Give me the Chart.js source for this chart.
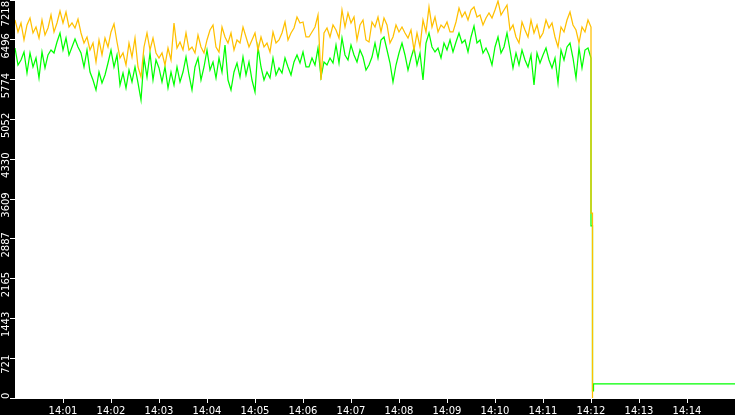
<!DOCTYPE html>
<html>
<head>
<meta charset="utf-8">
<script src="https://cdn.jsdelivr.net/npm/chart.js@4"></script>
<style>
  html, body { margin: 0; padding: 0; background: #000; }
  canvas { display: block; }
</style>
</head>
<body>
<canvas id="chart" width="735" height="415"></canvas>
<script>
// seconds after 14:00 between two samples
const sampleSeconds = 3.75;

const orangeValues = [
  6855, 6638, 6801, 6493, 6765, 6892, 6620, 6728, 6529, 6855,
  6583, 6710, 6946, 6638, 6801, 7018, 6801, 7000, 6728, 6801,
  6710, 6873, 6620, 6438, 6547, 6311, 6438, 6094, 6493, 6221,
  6529, 6366, 6638, 6783, 6456, 6166, 6257, 6039, 6438, 6184,
  6529, 6003, 5821, 6366, 6620, 6311, 6529, 6257, 6166,
  6257, 6039, 6347, 6130, 6801, 6347, 6456, 6311, 6620, 6311,
  6366, 6257, 6583, 6366, 6257, 6493, 6674, 6765, 6366, 6275,
  6728, 6547, 6438, 6620, 6311, 6493, 6438, 6728, 6547, 6366,
  6493, 6620, 6311, 6547, 6366, 6438, 6275, 6638, 6438, 6493,
  6620, 6819, 6493, 6620, 6710, 6910, 6801, 6819, 6547,
  6547, 6638, 6728, 6946, 5767, 6620, 6710, 6547, 6765, 6674,
  6529, 7037, 6728, 6982, 6801, 6910, 6493, 6765, 6855, 6493,
  6456, 6819, 6728, 6910, 6638, 6892, 6765, 6438, 6547, 6765,
  6638, 6728, 6620, 6529, 6674, 6311, 6620, 6366, 6855, 6638,
  7091, 6728, 6910, 6638, 6765, 6710, 6819, 6638,
  6638, 6819, 7073, 6910, 7000, 6855, 7037, 7091, 6910, 6946,
  6765, 6892, 6982, 6892, 7037, 7200, 6946, 7037, 7127, 6674,
  6765, 6547, 6438, 6819, 6674, 6547, 6855, 6620, 6765, 6529,
  6620, 6855, 6710, 6801, 6547, 6366, 6728, 6638, 6855, 7000,
  6765, 6674, 6438, 6728, 6638, 6855, 6728
];

const greenValues = [
  6347, 6039, 6130, 6275, 5894, 6257, 6003, 6166, 5803, 6275,
  5985, 6221, 6311, 6257, 6456, 6620, 6311, 6529, 6221, 6366,
  6511, 6366, 6257, 6003, 6311, 5912, 5767, 5586, 5912, 5713,
  5858, 6075, 6311, 6003, 6221, 5676, 5894, 5622, 5948, 5731,
  6003, 5713, 5404, 6166, 5821, 6257, 5767, 6130, 5985,
  5731, 6003, 5622, 5912, 5676, 6003, 5731, 5912, 6184, 5858,
  5586, 6003, 6166, 5767, 6003, 6311, 5948, 6094, 5803, 6166,
  5912, 6402, 5767, 5586, 5912, 6075, 5821, 6184, 5858, 6094,
  5767, 5549, 6366, 6003, 5767, 5912, 5803, 6166, 5858, 5985,
  5894, 6166, 6003, 5858, 6094, 6221, 6075, 6275, 6003,
  6003, 6166, 6039, 6347, 5821, 6094, 6039, 6166, 6075, 6402,
  6075, 6529, 6221, 6130, 6402, 6221, 6094, 6311, 6184, 5948,
  6039, 6184, 6438, 6166, 6493, 6547, 6311, 6075, 5731, 6039,
  6257, 6438, 6221, 5948, 6166, 6347, 6039, 6257, 5767, 6438,
  6620, 6366, 6275, 6347, 6166, 6438, 6311, 6493,
  6275, 6456, 6620, 6438, 6493, 6275, 6547, 6746, 6438, 6493,
  6257, 6347, 6221, 6039, 6366, 6547, 6257, 6366, 6620, 6311,
  5985, 6257, 6039, 6311, 6130, 6003, 6221, 5676, 6257, 6075,
  6221, 6347, 6130, 5985, 6166, 5713, 6311, 6130, 6366, 6438,
  6166, 5803, 6347, 5985, 6311, 6347, 6166
];

// the drop at 14:12 and what follows
const orangeTailTimes = [720, 721.875, 721.875];
const orangeTailValues = [3355, 3355, 0];
const greenTailTimes = [720, 721.875, 721.875, 723.125, 723.125, 900];
const greenTailValues = [3120, 3120, 127, 127, 254, 254];

const yTickValues = [0, 721.8, 1443.6, 2165.4, 2887.2, 3609, 4330.8, 5052.6, 5774.4, 6496.2, 7218];
const yTickLabels = ['0', '721', '1443', '2165', '2887', '3609', '4330', '5052', '5774', '6496', '7218'];
const xTickSeconds = [60, 120, 180, 240, 300, 360, 420, 480, 540, 600, 660, 720, 780, 840];
const xTickLabels = ['14:01', '14:02', '14:03', '14:04', '14:05', '14:06', '14:07',
  '14:08', '14:09', '14:10', '14:11', '14:12', '14:13', '14:14'];

const labelFont = '"DejaVu Sans", sans-serif';

function toPoints(values, tailTimes, tailValues) {
  const points = values.map((v, i) => ({ x: i * sampleSeconds, y: v }));
  tailTimes.forEach((t, i) => points.push({ x: t, y: tailValues[i] }));
  return points;
}

const plotBackground = {
  id: 'plotBackground',
  beforeDraw(chart) {
    const { ctx, chartArea: a } = chart;
    ctx.save();
    ctx.fillStyle = '#000';
    ctx.fillRect(0, 0, chart.width, chart.height);
    ctx.fillStyle = '#fff';
    ctx.fillRect(a.left, a.top, a.right - a.left, a.bottom - a.top + 1);
    ctx.restore();
  },
};

// y labels are turned on their side, so draw them by hand
const yLabels = {
  id: 'yLabels',
  afterDraw(chart) {
    const { ctx, chartArea: a } = chart;
    const y = chart.scales.y;
    ctx.save();
    ctx.fillStyle = '#fff';
    ctx.font = '10px ' + labelFont;
    ctx.textAlign = 'center';
    ctx.textBaseline = 'middle';
    yTickValues.forEach((v, i) => {
      const label = yTickLabels[i];
      const w = ctx.measureText(label).width;
      let c = y.getPixelForValue(v) + 6;
      c = Math.min(Math.max(c, a.top + 1 + w / 2), a.bottom + 1 - w / 2);
      ctx.save();
      ctx.translate(6.5, c);
      ctx.rotate(-Math.PI / 2);
      ctx.fillText(label, 0, 0);
      ctx.restore();
    });
    ctx.restore();
  },
};

const chart = new Chart(document.getElementById('chart').getContext('2d'), {
  type: 'line',
  data: {
    datasets: [{
      label: 'orange',
      data: toPoints(orangeValues, orangeTailTimes, orangeTailValues),
      borderColor: '#ffc000',
      borderWidth: 1.25,
      pointRadius: 0,
      tension: 0,
      fill: false,
    }, {
      label: 'green',
      data: toPoints(greenValues, greenTailTimes, greenTailValues),
      borderColor: '#00ff00',
      borderWidth: 1.25,
      pointRadius: 0,
      tension: 0,
      fill: false,
    }],
  },
  options: {
    responsive: false,
    animation: false,
    layout: { padding: 0 },
    plugins: {
      legend: { display: false },
      tooltip: { enabled: false },
    },
    scales: {
      x: {
        type: 'linear',
        min: 0,
        max: 900,
        afterFit: scale => { scale.height = 17; },
        afterBuildTicks: scale => { scale.ticks = xTickSeconds.map(v => ({ value: v })); },
        ticks: {
          color: '#fff',
          font: { family: labelFont, size: 10 },
          padding: 2,
          maxRotation: 0,
          autoSkip: false,
          callback: (v, i) => xTickLabels[i],
        },
        grid: { drawOnChartArea: false, color: '#fff', tickLength: 5 },
        border: { display: false },
      },
      y: {
        min: 0,
        max: 7218,
        afterFit: scale => { scale.width = 15; },
        afterBuildTicks: scale => { scale.ticks = yTickValues.map(v => ({ value: v })); },
        ticks: { display: false },
        grid: { drawOnChartArea: false, color: '#fff', tickLength: 5 },
        border: { display: false },
      },
    },
  },
  plugins: [plotBackground, yLabels],
});
</script>
</body>
</html>
